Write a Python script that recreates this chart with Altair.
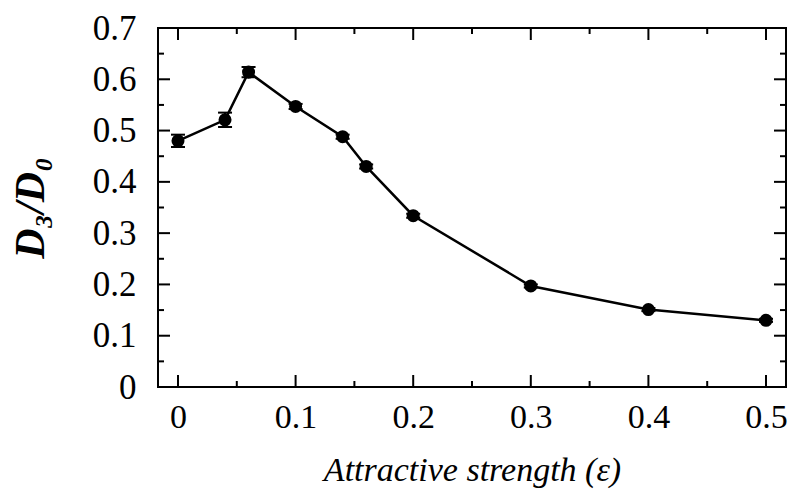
import altair as alt
import pandas as pd

# data
eps = [0.0, 0.04, 0.06, 0.10, 0.14, 0.16, 0.20, 0.30, 0.40, 0.50]
ratio = [0.480, 0.521, 0.614, 0.547, 0.488, 0.430, 0.334, 0.197, 0.151, 0.130]
err = [0.012, 0.014, 0.010, 0.005, 0.004, 0.004, 0.004, 0.003, 0.003, 0.003]

x_major = [0.0, 0.1, 0.2, 0.3, 0.4, 0.5]
x_minor = [0.05, 0.15, 0.25, 0.35, 0.45]
y_major = [0.0, 0.1, 0.2, 0.3, 0.4, 0.5, 0.6, 0.7]
y_minor = [0.05, 0.15, 0.25, 0.35, 0.45, 0.55, 0.65]

W, H = 628, 359
FONT = "Liberation Serif"

df = pd.DataFrame({"x": eps, "y": ratio, "lo": [r - e for r, e in zip(ratio, err)],
                   "hi": [r + e for r, e in zip(ratio, err)]})

xscale = alt.Scale(domain=[-0.017, 0.517], nice=False, zero=False)
yscale = alt.Scale(domain=[0, 0.7], nice=False, zero=False)

label_expr = "datum.value == 0 ? '0' : format(datum.value, '.1f')"
xaxis = alt.Axis(values=x_major, labelExpr=label_expr, ticks=False, domain=False, grid=False,
                 labelFont=FONT, labelFontSize=34, labelColor="black", labelPadding=13,
                 title="Attractive strength (ε)", titleFont=FONT, titleFontSize=34,
                 titleFontStyle="italic", titleFontWeight="normal", titleColor="black",
                 titlePadding=19)
yaxis = alt.Axis(values=y_major, labelExpr=label_expr, ticks=False, domain=False, grid=False,
                 labelFont=FONT, labelFontSize=35, labelColor="black", labelPadding=22,
                 title="D₃/D₀", titleFont=FONT, titleFontSize=42,
                 titleFontStyle="italic", titleFontWeight="bold", titleColor="black",
                 titlePadding=40)

X = alt.X("x:Q", scale=xscale, axis=xaxis)
Y = alt.Y("y:Q", scale=yscale, axis=yaxis)

base = alt.Chart(df)
line = base.mark_line(color="black", strokeWidth=2.5).encode(x=X, y=Y)
bars = base.mark_rule(color="black", strokeWidth=2).encode(x=X, y=alt.Y("lo:Q", scale=yscale), y2="hi:Q")
cap_lo = base.mark_tick(color="black", thickness=2, size=14, orient="horizontal", opacity=1).encode(
    x=X, y=alt.Y("lo:Q", scale=yscale))
cap_hi = base.mark_tick(color="black", thickness=2, size=14, orient="horizontal", opacity=1).encode(
    x=X, y=alt.Y("hi:Q", scale=yscale))
pts = base.mark_point(filled=True, shape="circle", size=170, color="black", opacity=1).encode(x=X, y=Y)

def xticks(vals, length):
    d = pd.DataFrame({"x": vals})
    b = alt.Chart(d).mark_rule(color="black", strokeWidth=2).encode(
        x=X, y=alt.value(H), y2=alt.value(H - length))
    t = alt.Chart(d).mark_rule(color="black", strokeWidth=2).encode(
        x=X, y=alt.value(0), y2=alt.value(length))
    return [b, t]

def yticks(vals, length):
    d = pd.DataFrame({"y": vals})
    l = alt.Chart(d).mark_rule(color="black", strokeWidth=2).encode(
        y=Y, x=alt.value(0), x2=alt.value(length))
    r = alt.Chart(d).mark_rule(color="black", strokeWidth=2).encode(
        y=Y, x=alt.value(W), x2=alt.value(W - length))
    return [l, r]

layers = [line, bars, cap_lo, cap_hi, pts]
layers += xticks(x_major, 12) + xticks(x_minor, 6) + yticks(y_major, 12) + yticks(y_minor, 6)

chart = alt.layer(*layers).properties(
    width=W, height=H,
    background="white",
    autosize=alt.AutoSizeParams(type="none"),
    padding={"left": 150, "top": 20, "right": 3, "bottom": 105},
).configure_view(stroke="black", strokeWidth=2, strokeOpacity=1)

chart.save("out.html", embed_options={"renderer": "svg", "actions": False})
